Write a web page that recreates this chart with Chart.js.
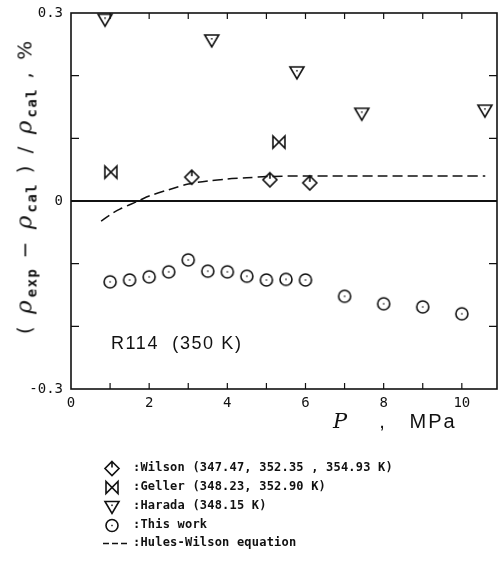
<!DOCTYPE html>
<html>
<head>
<meta charset="utf-8">
<script src="https://cdn.jsdelivr.net/npm/chart.js@4/dist/chart.umd.min.js"></script>
<style>
  html, body { margin: 0; padding: 0; background: #fff; }
  #wrap { position: relative; width: 498px; height: 578px; overflow: hidden; }
  #c { position: absolute; left: 0; top: 0; }
  .txt { position: absolute; color: #111; white-space: pre; }
  #ytitle { left: 25px; top: 186px; transform: translate(-50%, -50%) rotate(-90deg);
            font-family: "DejaVu Sans", sans-serif; font-size: 20px; letter-spacing: 3px; }
  #ytitle i { font-family: "DejaVu Serif", serif; font-size: 23px; }
  #ytitle sub { font-family: "DejaVu Sans Mono", monospace; font-weight: bold; font-size: 14px; letter-spacing: 1.5px; }
  #r114 { left: 111px; top: 333px; font-family: "Liberation Sans", Arial, sans-serif; font-size: 18px; letter-spacing: 1.6px; }
  #xtitle { left: 333px; top: 409px; font-family: "Liberation Sans", Arial, sans-serif; font-size: 20px; letter-spacing: 2px; }
  #xtitle i { font-family: "DejaVu Serif", serif; font-size: 21px; }
  .leg { position: absolute; left: 0; width: 498px; height: 19px; }
  .leg canvas { position: absolute; left: 102px; top: 0; }
  .leg span { position: absolute; left: 133px; top: 1px; font-family: "DejaVu Sans Mono", monospace; font-size: 12px; font-weight: bold; letter-spacing: 0.2px; color: #111; white-space: pre; }
</style>
</head>
<body>
<div id="wrap">
  <canvas id="c" width="498" height="578"></canvas>
  <div id="ytitle" class="txt">( <i>ρ</i><sub>exp</sub> − <i>ρ</i><sub>cal</sub> ) / <i>ρ</i><sub>cal</sub> , %</div>
  <div id="r114" class="txt">R114  (350 K)</div>
  <div id="xtitle" class="txt"><i>P</i>    ,   MPa</div>
  <div id="legend"></div>
</div>
<script>
// ---- data ----
const wilsonP = [3.09, 5.09, 6.11];
const wilsonDev = [0.038, 0.034, 0.029];
const gellerP = [1.02, 5.32];
const gellerDev = [0.046, 0.094];
const haradaP = [0.87, 3.6, 5.78, 7.44, 10.59];
const haradaDev = [0.29, 0.257, 0.206, 0.14, 0.145];
const thisP = [1, 1.5, 2, 2.5, 3, 3.5, 4, 4.5, 5, 5.5, 6, 7, 8, 9, 10];
const thisDev = [-0.129, -0.126, -0.121, -0.113, -0.094, -0.112, -0.113, -0.12, -0.126, -0.125, -0.126, -0.152, -0.164, -0.169, -0.18];
const hulesP = [0.77, 1.0, 1.25, 1.5, 1.75, 2.0, 2.5, 3.0, 3.5, 4.0, 4.5, 5.0, 6.0, 7.0, 8.0, 9.0, 10.0, 10.6];
const hulesDev = [-0.032, -0.022, -0.013, -0.006, 0.001, 0.008, 0.018, 0.027, 0.032, 0.035, 0.037, 0.039, 0.04, 0.04, 0.04, 0.04, 0.04, 0.04];
const xTickLabels = ['0', '2', '4', '6', '8', '10'];
const yTickLabels = ['0.3', '0', '-0.3'];
const legendLabels = [
  ':Wilson (347.47, 352.35 , 354.93 K)',
  ':Geller (348.23, 352.90 K)',
  ':Harada (348.15 K)',
  ':This work',
  ':Hules-Wilson equation'
];

const INK = '#111';

function drawMarker(ctx, kind, cx, cy) {
  ctx.save();
  ctx.strokeStyle = INK; ctx.fillStyle = INK; ctx.lineWidth = 1.6;
  ctx.beginPath();
  if (kind === 'diamond') {
    ctx.moveTo(cx, cy - 7); ctx.lineTo(cx + 7, cy); ctx.lineTo(cx, cy + 7); ctx.lineTo(cx - 7, cy); ctx.closePath();
    ctx.moveTo(cx, cy - 7); ctx.lineTo(cx, cy - 1);
    ctx.stroke();
  } else if (kind === 'bowtie') {
    ctx.moveTo(cx - 6, cy - 6); ctx.lineTo(cx - 6, cy + 6); ctx.lineTo(cx + 6, cy - 6); ctx.lineTo(cx + 6, cy + 6); ctx.closePath();
    ctx.stroke();
  } else if (kind === 'tri') {
    ctx.moveTo(cx - 7, cy - 5); ctx.lineTo(cx + 7, cy - 5); ctx.lineTo(cx, cy + 7); ctx.closePath();
    ctx.stroke();
    ctx.fillRect(cx - 0.7, cy - 2, 1.4, 1.6);
  } else if (kind === 'circle') {
    ctx.arc(cx, cy, 6, 0, Math.PI * 2);
    ctx.stroke();
    ctx.fillRect(cx - 0.7, cy - 0.7, 1.4, 1.4);
  } else if (kind === 'dash') {
    ctx.lineWidth = 1.4;
    ctx.moveTo(cx - 11, cy); ctx.lineTo(cx - 5, cy);
    ctx.moveTo(cx - 2, cy); ctx.lineTo(cx + 4, cy);
    ctx.moveTo(cx + 7, cy); ctx.lineTo(cx + 13, cy);
    ctx.stroke();
  }
  ctx.restore();
}
function markerCanvas(kind) {
  const cv = document.createElement('canvas');
  cv.width = 20; cv.height = 20;
  drawMarker(cv.getContext('2d'), kind, 10, 10);
  return cv;
}
function pts(xs, ys) { return xs.map((x, i) => ({ x: x, y: ys[i] })); }

// legend (HTML text + drawn symbols)
const legKinds = ['diamond', 'bowtie', 'tri', 'circle', 'dash'];
const legTops = [459, 478, 497, 516, 534];
const legendEl = document.getElementById('legend');
legendLabels.forEach((lab, i) => {
  const row = document.createElement('div');
  row.className = 'leg'; row.style.top = legTops[i] + 'px';
  const cv = document.createElement('canvas'); cv.width = 26; cv.height = 19;
  drawMarker(cv.getContext('2d'), legKinds[i], legKinds[i] === 'dash' ? 12 : 10, 9.5);
  const sp = document.createElement('span'); sp.textContent = lab;
  row.appendChild(cv); row.appendChild(sp);
  legendEl.appendChild(row);
});

const framePlugin = {
  id: 'frame',
  afterDraw(chart) {
    const { ctx, chartArea: a, scales: { x, y } } = chart;
    ctx.save();
    ctx.strokeStyle = INK;
    ctx.lineWidth = 2;
    ctx.beginPath();
    const y0 = y.getPixelForValue(0);
    ctx.moveTo(a.left, y0); ctx.lineTo(a.right, y0); ctx.stroke();
    ctx.lineWidth = 1.6;
    ctx.strokeRect(a.left, a.top, a.right - a.left, a.bottom - a.top);
    ctx.lineWidth = 1.2;
    ctx.beginPath();
    for (let v = 1; v <= 10; v++) {
      const px = x.getPixelForValue(v);
      ctx.moveTo(px, a.bottom); ctx.lineTo(px, a.bottom - 6);
      ctx.moveTo(px, a.top); ctx.lineTo(px, a.top + 6);
    }
    for (let k = -2; k <= 2; k++) {
      if (k === 0) continue;
      const py = y.getPixelForValue(k / 10);
      ctx.moveTo(a.left, py); ctx.lineTo(a.left + 8, py);
      ctx.moveTo(a.right, py); ctx.lineTo(a.right - 8, py);
    }
    ctx.stroke();
    ctx.restore();
  }
};

new Chart(document.getElementById('c'), {
  type: 'scatter',
  data: {
    datasets: [
      { label: 'Hules-Wilson equation', data: pts(hulesP, hulesDev), showLine: true, borderColor: INK, borderWidth: 1.5, borderDash: [10, 5], pointRadius: 0, tension: 0.3, fill: false },
      { label: 'Wilson', data: pts(wilsonP, wilsonDev), pointStyle: markerCanvas('diamond'), pointRadius: 8 },
      { label: 'Geller', data: pts(gellerP, gellerDev), pointStyle: markerCanvas('bowtie'), pointRadius: 8 },
      { label: 'Harada', data: pts(haradaP, haradaDev), pointStyle: markerCanvas('tri'), pointRadius: 8 },
      { label: 'This work', data: pts(thisP, thisDev), pointStyle: markerCanvas('circle'), pointRadius: 8 }
    ]
  },
  options: {
    responsive: false,
    animation: false,
    devicePixelRatio: 1,
    layout: { autoPadding: false, padding: { top: 13, right: 1, left: 0, bottom: 159 } },
    plugins: { legend: { display: false }, tooltip: { enabled: false } },
    scales: {
      x: {
        type: 'linear', min: 0, max: 10.9,
        grid: { display: false, drawTicks: false },
        border: { display: false },
        ticks: {
          stepSize: 1, includeBounds: false, autoSkip: false, maxRotation: 0, padding: 6,
          color: INK, font: { family: 'DejaVu Sans Mono', size: 14 },
          callback: (v) => { const s = String(Math.round(v)); return xTickLabels.includes(s) && Math.abs(v - Math.round(v)) < 1e-6 ? s : ''; }
        },
        afterFit: (s) => { s.height = 30; s.paddingLeft = 0; s.paddingRight = 0; }
      },
      y: {
        type: 'linear', min: -0.3, max: 0.3,
        grid: { display: false, drawTicks: false },
        border: { display: false },
        ticks: {
          stepSize: 0.1, autoSkip: false, padding: 8,
          color: INK, font: { family: 'DejaVu Sans Mono', size: 14 },
          callback: (v) => { const r = Math.round(v * 10) / 10; const s = r === 0 ? '0' : String(r); return yTickLabels.includes(s) ? s : ''; }
        },
        afterFit: (s) => { s.width = 71; s.paddingTop = 0; s.paddingBottom = 0; }
      }
    }
  },
  plugins: [framePlugin]
});
</script>
</body>
</html>
